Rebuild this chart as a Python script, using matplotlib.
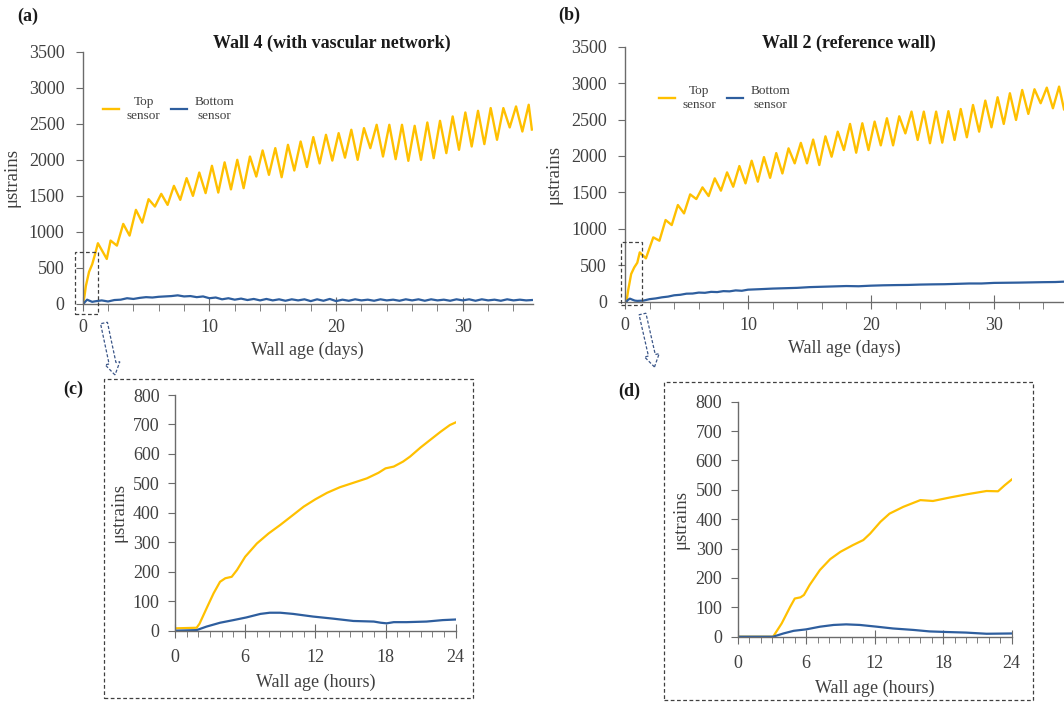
import matplotlib
matplotlib.use('Agg')
import matplotlib.pyplot as plt
from matplotlib.patches import Rectangle, FancyArrow
from matplotlib.ticker import MultipleLocator

plt.rcParams['font.family'] = ['Liberation Serif', 'DejaVu Serif']

YELLOW = '#FFC000'
BLUE = '#2E5E9E'
TXT = '#404040'
SPINE = '#6b6b6b'

# ---------------- data ----------------
# Panel (a) Wall 4 - top sensor (days, µstrains)
top_a_days = [0, 0.125, 0.25, 0.5, 0.75, 1.0, 1.2, 1.9, 2.2, 2.7, 3.2, 3.7, 4.2, 4.7, 5.2, 5.7,
              6.2, 6.7, 7.2, 7.7, 8.2, 8.7, 9.2, 9.7, 10.2, 10.7, 11.2, 11.7, 12.2, 12.7, 13.2,
              13.7, 14.2, 14.7, 15.2, 15.7, 16.2, 16.7, 17.2, 17.7, 18.2, 18.7, 19.2, 19.7, 20.2,
              20.7, 21.2, 21.7, 22.2, 22.7, 23.2, 23.7, 24.2, 24.7, 25.2, 25.7, 26.2, 26.7, 27.2,
              27.7, 28.2, 28.7, 29.2, 29.7, 30.2, 30.7, 31.2, 31.7, 32.2, 32.7, 33.2, 33.7, 34.2,
              34.7, 35.2, 35.45]
top_a_vals = [0, 90, 250, 446, 551, 707, 843, 625, 880, 810, 1111, 949, 1306, 1129, 1454, 1352,
              1528, 1375, 1639, 1445, 1746, 1500, 1824, 1538, 1917, 1546, 1965, 1590, 2000, 1607, 2046,
              1768, 2130, 1792, 2162, 1759, 2208, 1852, 2254, 1900, 2315, 1950, 2347, 1990, 2370,
              2030, 2417, 2000, 2440, 2162, 2486, 2046, 2486, 2009, 2486, 1986, 2472, 2000, 2518,
              2023, 2541, 2093, 2602, 2139, 2657, 2185, 2680, 2218, 2718, 2278, 2718, 2449, 2741,
              2393, 2764, 2420]

# Panel (a) Wall 4 - bottom sensor
bot_a_days = [0, 0.08, 0.17, 0.35, 0.5, 0.75, 1.0, 1.5, 2.0, 2.5, 3.0, 3.5, 4.0, 4.5, 5.0, 5.5,
              6.0, 6.5, 7.0, 7.5, 8.0, 8.5, 9.0, 9.5, 10.0, 10.5, 11.0, 11.5, 12.0, 12.5, 13.0,
              13.5, 14.0, 14.5, 15.0, 15.5, 16.0, 16.5, 17.0, 17.5, 18.0, 18.5, 19.0, 19.5, 20.0,
              20.5, 21.0, 21.5, 22.0, 22.5, 23.0, 23.5, 24.0, 24.5, 25.0, 25.5, 26.0, 26.5, 27.0,
              27.5, 28.0, 28.5, 29.0, 29.5, 30.0, 30.5, 31.0, 31.5, 32.0, 32.5, 33.0, 33.5, 34.0,
              34.5, 35.0, 35.45]
bot_a_vals = [0, 3, 27, 60, 48, 30, 38, 50, 35, 55, 60, 80, 70, 85, 95, 90,
              100, 105, 110, 120, 105, 110, 95, 105, 80, 90, 65, 80, 60, 75, 55,
              70, 50, 70, 50, 65, 45, 65, 50, 65, 40, 65, 45, 70, 40,
              60, 45, 65, 50, 60, 45, 65, 50, 60, 45, 65, 50, 65, 45,
              65, 50, 60, 45, 65, 50, 65, 45, 65, 50, 60, 45, 65, 50,
              60, 50, 55]

# Panel (b) Wall 2 - top sensor
top_b_days = [0, 0.125, 0.25, 0.5, 0.75, 1.0, 1.2, 1.7, 2.3, 2.8, 3.3, 3.8, 4.3, 4.8, 5.3, 5.8,
              6.3, 6.8, 7.3, 7.8, 8.3, 8.8, 9.3, 9.8, 10.3, 10.8, 11.3, 11.8, 12.3, 12.8, 13.3,
              13.8, 14.3, 14.8, 15.3, 15.8, 16.3, 16.8, 17.3, 17.8, 18.3, 18.8, 19.3, 19.8, 20.3,
              20.8, 21.3, 21.8, 22.3, 22.8, 23.3, 23.8, 24.3, 24.8, 25.3, 25.8, 26.3, 26.8, 27.3,
              27.8, 28.3, 28.8, 29.3, 29.8, 30.3, 30.8, 31.3, 31.8, 32.3, 32.8, 33.3, 33.8, 34.3,
              34.8, 35.3, 35.7]
top_b_vals = [0, 0, 150, 380, 470, 535, 677, 595, 883, 837, 1121, 1052, 1327, 1212, 1473, 1409,
              1569, 1450, 1693, 1524, 1775, 1578, 1862, 1624, 1935, 1647, 1985, 1700, 2040, 1760, 2105,
              1899, 2180, 1899, 2225, 1876, 2270, 1990, 2334, 2082, 2440, 2045, 2449, 2082, 2472,
              2146, 2518, 2146, 2545, 2310, 2609, 2220, 2609, 2175, 2609, 2183, 2615, 2220, 2645,
              2257, 2700, 2334, 2760, 2394, 2806, 2440, 2861, 2495, 2906, 2577, 2916, 2724, 2938,
              2655, 2952, 2641]

# Panel (b) Wall 2 - bottom sensor
bot_b_days = [0, 0.13, 0.2, 0.4, 0.6, 0.8, 1.0, 1.5, 2.0, 2.5, 3.0, 3.5, 4.0, 4.5, 5.0, 5.5,
              6.0, 6.5, 7.0, 7.5, 8.0, 8.5, 9.0, 9.5, 10.0, 11.0, 12.0, 13.0, 14.0, 15.0, 16.0,
              17.0, 18.0, 19.0, 20.0, 21.0, 22.0, 23.0, 24.0, 25.0, 26.0, 27.0, 28.0, 29.0, 30.0,
              31.0, 32.0, 33.0, 34.0, 35.0, 35.7]
bot_b_vals = [0, 0, 20, 42, 28, 15, 11, 15, 35, 45, 60, 70, 88, 95, 110, 112,
              125, 122, 135, 132, 145, 142, 155, 150, 165, 172, 180, 185, 190, 200, 205,
              210, 215, 212, 220, 225, 228, 230, 235, 238, 240, 245, 250, 250, 258,
              260, 262, 265, 268, 270, 275]

# Panel (c) Wall 4 - first 24 h
hours_c_top = [0, 1.85, 2.1, 2.7, 3.3, 3.85, 4.3, 4.85, 5.3, 6, 7, 8, 9, 10.1, 11, 12, 13, 14.1,
               15.25, 16.4, 17.4, 18, 18.7, 19.5, 20.1, 21, 21.8, 22.7, 23.5, 24]
top_c_vals = [8, 10, 24, 76, 127, 166, 178, 183, 206, 251, 296, 330, 359, 393, 421, 446, 468, 487,
              502, 517, 536, 551, 557, 574, 591, 622, 647, 675, 698, 707]
hours_c_bot = [0, 1.85, 2.7, 3.85, 5, 6.1, 7.3, 8.1, 9, 10.1, 11.8, 13.5, 15.25, 17, 17.6, 18.1,
               18.7, 19.8, 21.5, 22.9, 24]
bot_c_vals = [0, 2, 14, 27, 36, 45, 57, 61, 61, 57, 48, 41, 33, 31, 27, 25, 29, 29, 31, 36, 38]

# Panel (d) Wall 2 - first 24 h
hours_d_top = [0, 3.1, 3.85, 4.6, 5.0, 5.5, 5.8, 6.3, 7.2, 8.1, 9, 10.1, 11, 11.6, 12.5, 13.3,
               14.5, 16, 17.1, 18.6, 20.1, 21.8, 22.8, 23.4, 24]
top_d_vals = [0, 0, 45, 102, 130, 134, 142, 176, 227, 264, 289, 312, 329, 351, 391, 419,
              442, 465, 462, 474, 485, 496, 495, 516, 535]
hours_d_bot = [0, 3.1, 4, 4.9, 6, 7.2, 8.4, 9.5, 10.7, 12.2, 13.6, 15.4, 16.8, 18.3, 20, 21.8, 24]
bot_d_vals = [0, 0, 11, 20, 25, 34, 40, 42, 40, 34, 28, 23, 18, 16, 14, 10, 11]

titles = ['Wall 4 (with vascular network)', 'Wall 2 (reference wall)']
panel_labels = ['(a)', '(b)', '(c)', '(d)']

# ---------------- figure ----------------
W, H = 1064, 702
fig = plt.figure(figsize=(W / 100, H / 100), dpi=100)


def px_rect(l, t, r, b):
    return [l / W, 1 - b / H, (r - l) / W, (b - t) / H]


def style(ax):
    for s in ['top', 'right']:
        ax.spines[s].set_visible(False)
    for s in ['left', 'bottom']:
        ax.spines[s].set_color(SPINE)
        ax.spines[s].set_linewidth(1.0)
    ax.tick_params(colors=SPINE, labelcolor=TXT, labelsize=13)
    ax.patch.set_alpha(0)


axA = fig.add_axes(px_rect(82.7, 51.7, 532.5, 304))
axB = fig.add_axes(px_rect(625, 46.7, 1064, 301.7))
axC = fig.add_axes(px_rect(175, 395, 455.7, 630.7))
axD = fig.add_axes(px_rect(737.7, 401.7, 1011.7, 636.7))

for ax, td, tv, bd, bv, xmax, title, tx, leg_xy in [
        (axA, top_a_days, top_a_vals, bot_a_days, bot_a_vals, 35.5, titles[0], 332, (0.019, 0.872)),
        (axB, top_b_days, top_b_vals, bot_b_days, bot_b_vals, 35.7, titles[1], 849, (0.05, 0.895))]:
    style(ax)
    ax.plot(td, tv, color=YELLOW, lw=1.7, label='Top\nsensor', solid_joinstyle='round')
    ax.plot(bd, bv, color=BLUE, lw=1.6, label='Bottom\nsensor', solid_joinstyle='round')
    ax.set_xlim(0, xmax)
    ax.set_ylim(0, 3500)
    ax.xaxis.set_major_locator(MultipleLocator(10))
    ax.xaxis.set_minor_locator(MultipleLocator(2))
    ax.yaxis.set_major_locator(MultipleLocator(500))
    ax.tick_params(axis='x', which='major', direction='inout', length=10, pad=6)
    ax.tick_params(axis='x', which='minor', direction='out', length=5, color=SPINE)
    ax.tick_params(axis='y', which='major', direction='out', length=5, pad=8)
    ax.set_xlabel('Wall age (days)', fontsize=13, color=TXT, labelpad=4)
    ax.set_ylabel('μstrains', fontsize=13.5, color=TXT, labelpad=6)
    fig.text(tx / W, 1 - 43 / H, title, ha='center', va='center', fontsize=13,
             fontweight='bold', color='#1a1a1a')
    leg = ax.legend(loc='upper left', bbox_to_anchor=leg_xy, ncol=2, frameon=False,
                    fontsize=9.5, handlelength=1.2, columnspacing=0.8, handletextpad=0.6,
                    labelcolor=TXT)
    for t in leg.get_texts():
        t.set_multialignment('center')

for ax, hx1, v1, hx2, v2 in [(axC, hours_c_top, top_c_vals, hours_c_bot, bot_c_vals),
                             (axD, hours_d_top, top_d_vals, hours_d_bot, bot_d_vals)]:
    style(ax)
    ax.plot(hx1, v1, color=YELLOW, lw=1.6)
    ax.plot(hx2, v2, color=BLUE, lw=1.6)
    ax.set_xlim(0, 24)
    ax.set_ylim(0, 800)
    ax.xaxis.set_major_locator(MultipleLocator(6))
    ax.xaxis.set_minor_locator(MultipleLocator(1))
    ax.yaxis.set_major_locator(MultipleLocator(100))
    ax.tick_params(axis='x', which='major', direction='inout', length=10, pad=8)
    ax.tick_params(axis='x', which='minor', direction='out', length=4, color=SPINE)
    ax.tick_params(axis='y', which='major', direction='out', length=5, pad=6)
    ax.set_xlabel('Wall age (hours)', fontsize=13, color=TXT, labelpad=6)
    ax.set_ylabel('μstrains', fontsize=13.5, color=TXT, labelpad=4)

# zoom boxes on top panels (span the first day)
for ax, x0, x1, y0, y1 in [(axA, -0.6, 1.2, -139, 723), (axB, -0.35, 1.4, -45, 815)]:
    ax.add_patch(Rectangle((x0, y0), x1 - x0, y1 - y0, fill=False, ec='#404040', lw=0.9,
                           ls=(0, (3, 2)), clip_on=False, zorder=5))

# dashed frames around the zoom panels
for l, t, r, b in [(104, 379, 473, 698), (664, 382, 1033, 700)]:
    fig.patches.append(Rectangle((l / W, 1 - b / H), (r - l) / W, (b - t) / H, fill=False,
                                 ec='#404040', lw=0.9, ls=(0, (3, 2)),
                                 transform=fig.transFigure))

# hollow dashed arrows
for (x, y, dx, dy) in [(104, 323, 11, 52), (642.5, 314, 12, 53)]:
    arr = FancyArrow(x / 100, (H - y) / 100, dx / 100, -dy / 100, width=0.07,
                     head_width=0.15, head_length=0.12, length_includes_head=True,
                     transform=fig.dpi_scale_trans, fill=False, ec='#3b5688', lw=0.9,
                     ls=(0, (2.5, 1.5)))
    fig.patches.append(arr)

# panel labels
for lab, x, y in [('(a)', 28, 16), ('(b)', 569, 15), ('(c)', 73, 389), ('(d)', 629, 391)]:
    fig.text(x / W, 1 - y / H, lab, ha='center', va='center', fontsize=13,
             fontweight='bold', color='#1a1a1a')

fig.savefig('out.png', dpi=100)
